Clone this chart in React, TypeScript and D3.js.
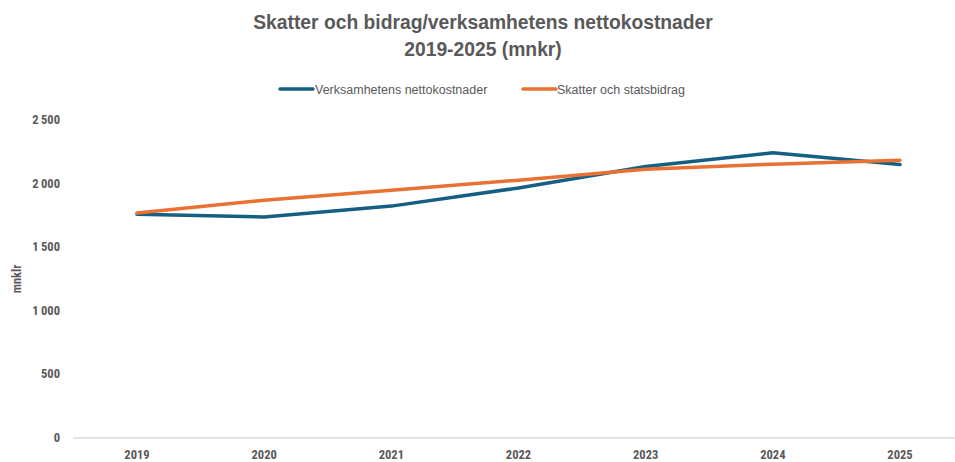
import React, {useEffect, useRef} from 'react'
import * as d3 from 'd3'

const years = ['2019', '2020', '2021', '2022', '2023', '2024', '2025']
const nettokostnader = [1760, 1738, 1823, 1966, 2135, 2242, 2150]
const skatter = [1768, 1870, 1948, 2027, 2113, 2153, 2184]
const yTicks = [0, 500, 1000, 1500, 2000, 2500]

const seriesNames = ['Verksamhetens nettokostnader', 'Skatter och statsbidrag']
const colors = ['#156082', '#E97132']

const W = 955
const H = 462
const textColor = '#595959'
const font = "'Liberation Sans Narrow', 'Roboto Condensed', 'Liberation Sans', Arial, sans-serif"

export default function App() {
    const svgRef = useRef<SVGSVGElement>(null)

    useEffect(() => {
        const svg = d3.select(svgRef.current)
        svg.selectAll('*').remove()

        const x = d3.scalePoint<string>()
            .domain(years)
            .range([137, 900])

        const y = d3.scaleLinear()
            .domain([0, 2500])
            .range([438, 120])

        // title
        const title = svg.append('text')
            .attr('text-anchor', 'middle')
            .attr('fill', textColor)
            .attr('font-family', "'Liberation Sans', Arial, sans-serif")
            .attr('font-weight', 'bold')
            .attr('font-size', 19.3)
        title.append('tspan').attr('x', 483).attr('y', 29).text('Skatter och bidrag/verksamhetens nettokostnader')
        title.append('tspan').attr('x', 483).attr('y', 56).text('2019-2025 (mnkr)')

        // legend
        const legendPos = [{x: 280, tx: 315}, {x: 523, tx: 557}]
        seriesNames.forEach((name, i) => {
            svg.append('line')
                .attr('x1', legendPos[i].x).attr('x2', legendPos[i].x + 33)
                .attr('y1', 89).attr('y2', 89)
                .attr('stroke', colors[i])
                .attr('stroke-width', 3.5)
                .attr('stroke-linecap', 'round')
            svg.append('text')
                .attr('x', legendPos[i].tx).attr('y', 93.5)
                .attr('fill', textColor)
                .attr('font-family', "'Liberation Sans', Arial, sans-serif")
                .attr('font-size', 12.5)
                .text(name)
        })

        // y tick labels
        svg.append('g')
            .selectAll('text')
            .data(yTicks)
            .join('text')
            .attr('x', 60)
            .attr('y', d => y(d) + 4)
            .attr('text-anchor', 'end')
            .attr('fill', textColor)
            .attr('font-family', font)
            .attr('font-weight', 'bold')
            .attr('font-size', 12.5)
            .text(d => d3.format(',')(d).replace(',', '\u2009'))

        // y axis title
        svg.append('text')
            .attr('transform', `translate(21,${y(1250)}) rotate(-90)`)
            .attr('text-anchor', 'middle')
            .attr('fill', textColor)
            .attr('font-family', font)
            .attr('font-weight', 'bold')
            .attr('font-size', 12.5)
            .text('mnklr')

        // x axis line
        const step = x.step()
        svg.append('line')
            .attr('x1', x(years[0])! - step / 2)
            .attr('x2', x(years[years.length - 1])! + step / 2)
            .attr('y1', y(0)).attr('y2', y(0))
            .attr('stroke', '#d9d9d9')
            .attr('stroke-width', 1.5)

        svg.append('g')
            .selectAll('text')
            .data(years)
            .join('text')
            .attr('x', d => x(d)!)
            .attr('y', 459)
            .attr('text-anchor', 'middle')
            .attr('fill', textColor)
            .attr('font-family', font)
            .attr('font-weight', 'bold')
            .attr('font-size', 12.5)
            .text(d => d)

        // lines
        const line = d3.line<number>()
            .x((d, i) => x(years[i])!)
            .y(d => y(d))

        ;[nettokostnader, skatter].forEach((vals, i) => {
            svg.append('path')
                .datum(vals)
                .attr('d', line)
                .attr('fill', 'none')
                .attr('stroke', colors[i])
                .attr('stroke-width', 3.5)
                .attr('stroke-linecap', 'round')
                .attr('stroke-linejoin', 'round')
        })
    }, [])

    return (
        <svg
            ref={svgRef}
            width={W}
            height={H}
            style={{position: 'absolute', left: 0, top: 0, background: '#fff'}}
        />
    )
}
